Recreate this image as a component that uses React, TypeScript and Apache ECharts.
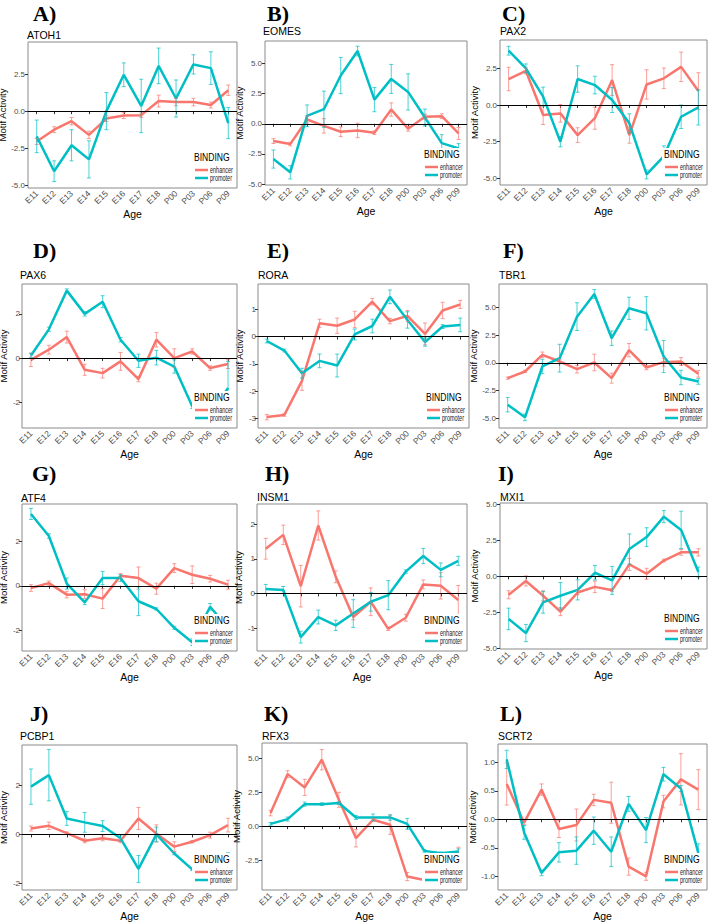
import React, { useEffect, useRef } from "react";
import * as echarts from "echarts";

const categories = ["E11", "E12", "E13", "E14", "E15", "E16", "E17", "E18", "P00", "P03", "P06", "P09"];
const panelLabels = ["A)", "B)", "C)", "D)", "E)", "F)", "G)", "H)", "I)", "J)", "K)", "L)"];
const motifNames = ["ATOH1", "EOMES", "PAX2", "PAX6", "RORA", "TBR1", "ATF4", "INSM1", "MXI1", "PCBP1", "RFX3", "SCRT2"];
const legendTitle = "BINDING";
const groupNames = ["enhancer", "promoter"];

// ATOH1
const atoh1Enh = [-2.05, -1.25, -0.68, -1.6, -0.5, -0.3, -0.27, 0.68, 0.61, 0.61, 0.41, 1.41];
const atoh1EnhErr = [0.2, 0.2, 0.25, 0.25, 0.2, 0.2, 0.15, 0.4, 0.25, 0.25, 0.2, 0.35];
const atoh1Pro = [-1.7, -4.05, -2.3, -3.25, 0.0, 2.45, 0.35, 3.05, 0.85, 3.15, 2.9, -0.8];
const atoh1ProErr = [1.1, 0.7, 1.05, 1.25, 1.25, 0.8, 1.8, 1.2, 1.25, 0.65, 1.1, 1.05];
const atoh1Ticks = [-5, -2.5, 0, 2.5];
const atoh1Range = [-5.18, 4.66];

// EOMES
const eomesEnh = [-1.43, -1.68, 0.36, -0.17, -0.66, -0.55, -0.74, 1.18, -0.41, 0.58, 0.63, -0.8];
const eomesEnhErr = [0.2, 0.15, 0.3, 0.6, 0.4, 0.6, 0.15, 0.55, 0.2, 0.2, 0.2, 0.5];
const eomesPro = [-2.92, -4.02, 0.66, 1.21, 4.0, 6.03, 2.0, 3.72, 2.64, 0.52, -1.6, -2.04];
const eomesProErr = [0.75, 0.55, 0.9, 1.5, 1.5, 0.4, 1.0, 1.2, 1.5, 0.7, 0.7, 0.4];
const eomesTicks = [-5, -2.5, 0, 2.5, 5];
const eomesRange = [-5.07, 6.86];

// PAX2
const pax2Enh = [1.77, 2.32, -0.68, -0.57, -2.05, -0.9, 1.7, -2.05, 1.4, 1.82, 2.6, 0.95];
const pax2EnhErr = [0.8, 0.2, 0.65, 0.6, 0.5, 0.75, 1.05, 0.55, 1.0, 0.7, 1.0, 1.25];
const pax2Pro = [3.7, 2.5, 0.57, -2.5, 1.77, 1.36, 0.34, -1.25, -4.73, -3.48, -0.8, -0.16];
const pax2ProErr = [0.3, 0.3, 0.65, 0.35, 0.9, 0.6, 0.85, 0.65, 0.3, 0.7, 0.8, 1.2];
const pax2Ticks = [-5, -2.5, 0, 2.5];
const pax2Range = [-5.45, 4.43];

// PAX6
const pax6Enh = [-0.08, 0.38, 0.95, -0.53, -0.68, -0.15, -0.95, 0.83, 0.0, 0.3, -0.45, -0.27];
const pax6EnhErr = [0.3, 0.2, 0.27, 0.25, 0.22, 0.4, 0.12, 0.33, 0.42, 0.12, 0.1, 0.2];
const pax6Pro = [0.12, 1.3, 3.05, 2.0, 2.55, 0.83, -0.12, 0.02, -0.38, -2.18, -2.55, -1.35];
const pax6ProErr = [0.1, 0.1, 0.08, 0.1, 0.27, 0.1, 0.3, 0.33, 0.3, 0.1, 0.2, 1.2];
const pax6Ticks = [-2, 0, 2];
const pax6Range = [-3.16, 3.35];

// RORA
const roraEnh = [-2.95, -2.87, -1.62, 0.49, 0.4, 0.63, 1.28, 0.57, 0.76, 0.1, 0.96, 1.18];
const roraEnhErr = [0.1, 0.05, 0.35, 0.15, 0.28, 0.3, 0.12, 0.1, 0.2, 0.4, 0.3, 0.15];
const roraPro = [-0.16, -0.51, -1.34, -0.89, -1.06, 0.08, 0.39, 1.46, 0.61, -0.2, 0.37, 0.43];
const roraProErr = [0.07, 0.05, 0.18, 0.25, 0.42, 0.2, 0.25, 0.25, 0.3, 0.15, 0.07, 0.25];
const roraTicks = [-3, -2, -1, 0, 1];
const roraRange = [-3.35, 1.93];

// TBR1
const tbr1Enh = [-1.38, -0.78, 0.72, 0.12, -0.57, 0.03, -1.38, 1.14, -0.42, 0.06, 0.12, -0.99];
const tbr1EnhErr = [0.1, 0.1, 0.25, 0.2, 0.35, 0.75, 0.45, 0.6, 0.2, 0.35, 0.35, 0.3];
const tbr1Pro = [-3.77, -4.91, -0.33, 0.42, 4.16, 6.2, 2.22, 4.91, 4.46, 0.57, -1.32, -1.68];
const tbr1ProErr = [0.65, 0.3, 0.65, 1.25, 1.25, 0.4, 0.65, 1.0, 1.5, 1.45, 0.65, 0.25];
const tbr1Ticks = [-5, -2.5, 0, 2.5, 5];
const tbr1Range = [-5.87, 7.1];

// ATF4
const atf4Enh = [-0.1, 0.12, -0.4, -0.38, -0.58, 0.45, 0.35, -0.13, 0.8, 0.5, 0.32, 0.05];
const atf4EnhErr = [0.15, 0.1, 0.15, 0.2, 0.45, 0.1, 0.5, 0.25, 0.2, 0.4, 0.15, 0.2];
const atf4Pro = [3.25, 2.25, 0.1, -0.75, 0.35, 0.35, -0.7, -1.05, -1.9, -2.55, -0.95, -1.9];
const atf4ProErr = [0.25, 0.1, 0.25, 0.1, 0.3, 0.15, 0.65, 0.05, 0.07, 0.15, 0.15, 0.1];
const atf4Ticks = [-2, 0, 2];
const atf4Range = [-2.95, 3.7];

// INSM1
const insm1Enh = [1.29, 1.69, 0.21, 1.96, 0.48, -0.68, -0.24, -1.02, -0.7, 0.26, 0.22, -0.19];
const insm1EnhErr = [0.3, 0.28, 0.6, 0.42, 0.17, 0.08, 0.4, 0.05, 0.1, 0.13, 0.38, 0.42];
const insm1Pro = [0.13, 0.1, -1.26, -0.68, -0.92, -0.58, -0.24, -0.05, 0.63, 1.08, 0.68, 0.94];
const insm1ProErr = [0.13, 0.1, 0.17, 0.2, 0.15, 0.4, 0.27, 0.42, 0.05, 0.22, 0.2, 0.13];
const insm1Ticks = [-1, 0, 1, 2];
const insm1Range = [-1.66, 2.58];

// MXI1
const mxi1Enh = [-1.28, -0.32, -1.35, -2.45, -1.12, -0.73, -0.96, 0.83, 0.18, 1.1, 1.67, 1.67];
const mxi1EnhErr = [0.28, 0.35, 0.35, 0.28, 0.15, 0.4, 0.1, 0.42, 0.38, 0.1, 0.2, 0.25];
const mxi1Pro = [-2.96, -3.94, -1.81, -1.35, -0.94, 0.25, -0.28, 1.9, 2.73, 4.15, 3.23, 0.3];
const mxi1ProErr = [0.75, 0.6, 0.75, 0.92, 0.7, 0.5, 0.97, 1.05, 0.65, 0.42, 1.3, 0.35];
const mxi1Ticks = [-5, -2.5, 0, 2.5, 5];
const mxi1Range = [-5.05, 5.1];

// PCBP1
const pcbp1Enh = [0.24, 0.35, 0.05, -0.26, -0.16, -0.26, 0.65, 0.04, -0.5, -0.3, -0.03, 0.38];
const pcbp1EnhErr = [0.1, 0.15, 0.05, 0.08, 0.1, 0.08, 0.45, 0.35, 0.2, 0.05, 0.12, 0.28];
const pcbp1Pro = [1.95, 2.42, 0.65, 0.49, 0.34, -0.16, -1.41, 0.0, -0.78, -1.43, -1.9, -1.35];
const pcbp1ProErr = [0.72, 1.05, 0.28, 0.4, 0.22, 0.1, 0.55, 0.3, 0.05, 0.05, 0.1, 0.6];
const pcbp1Ticks = [-2, 0, 2];
const pcbp1Range = [-2.27, 3.65];

// RFX3
const rfx3Enh = [0.96, 3.83, 2.85, 4.89, 1.94, -0.88, 0.47, 0.1, -3.71, -3.96, -3.0, -1.9];
const rfx3EnhErr = [0.2, 0.25, 0.6, 0.75, 0.55, 0.65, 0.1, 0.7, 0.3, 0.15, 0.3, 0.35];
const rfx3Pro = [0.17, 0.52, 1.62, 1.62, 1.7, 0.64, 0.64, 0.64, 0.17, -1.82, -2.0, -1.87];
const rfx3ProErr = [0.1, 0.15, 0.15, 0.1, 0.1, 0.15, 0.25, 0.2, 0.4, 0.1, 0.1, 0.2];
const rfx3Ticks = [-2.5, 0, 2.5, 5];
const rfx3Range = [-4.7, 6.12];

// SCRT2
const scrt2Enh = [0.62, -0.06, 0.52, -0.17, -0.1, 0.34, 0.29, -0.83, -1.0, 0.31, 0.7, 0.52];
const scrt2EnhErr = [0.37, 0.03, 0.1, 0.15, 0.28, 0.1, 0.36, 0.15, 0.07, 0.11, 0.45, 0.35];
const scrt2Pro = [1.05, -0.23, -0.94, -0.58, -0.55, -0.2, -0.57, 0.27, -0.19, 0.79, 0.54, -0.59];
const scrt2ProErr = [0.16, 0.12, 0.05, 0.17, 0.24, 0.24, 0.26, 0.13, 0.22, 0.12, 0.05, 0.16];
const scrt2Ticks = [-1, -0.5, 0, 0.5, 1];
const scrt2Range = [-1.24, 1.32];

const panels = [
  { enh: atoh1Enh, enhErr: atoh1EnhErr, pro: atoh1Pro, proErr: atoh1ProErr, ticks: atoh1Ticks, range: atoh1Range },
  { enh: eomesEnh, enhErr: eomesEnhErr, pro: eomesPro, proErr: eomesProErr, ticks: eomesTicks, range: eomesRange },
  { enh: pax2Enh, enhErr: pax2EnhErr, pro: pax2Pro, proErr: pax2ProErr, ticks: pax2Ticks, range: pax2Range },
  { enh: pax6Enh, enhErr: pax6EnhErr, pro: pax6Pro, proErr: pax6ProErr, ticks: pax6Ticks, range: pax6Range },
  { enh: roraEnh, enhErr: roraEnhErr, pro: roraPro, proErr: roraProErr, ticks: roraTicks, range: roraRange },
  { enh: tbr1Enh, enhErr: tbr1EnhErr, pro: tbr1Pro, proErr: tbr1ProErr, ticks: tbr1Ticks, range: tbr1Range },
  { enh: atf4Enh, enhErr: atf4EnhErr, pro: atf4Pro, proErr: atf4ProErr, ticks: atf4Ticks, range: atf4Range },
  { enh: insm1Enh, enhErr: insm1EnhErr, pro: insm1Pro, proErr: insm1ProErr, ticks: insm1Ticks, range: insm1Range },
  { enh: mxi1Enh, enhErr: mxi1EnhErr, pro: mxi1Pro, proErr: mxi1ProErr, ticks: mxi1Ticks, range: mxi1Range },
  { enh: pcbp1Enh, enhErr: pcbp1EnhErr, pro: pcbp1Pro, proErr: pcbp1ProErr, ticks: pcbp1Ticks, range: pcbp1Range },
  { enh: rfx3Enh, enhErr: rfx3EnhErr, pro: rfx3Pro, proErr: rfx3ProErr, ticks: rfx3Ticks, range: rfx3Range },
  { enh: scrt2Enh, enhErr: scrt2EnhErr, pro: scrt2Pro, proErr: scrt2ProErr, ticks: scrt2Ticks, range: scrt2Range },
];

// layout (pixel boxes of each plot panel: x1, y1, x2, y2)
const boxes = [
  [28, 42, 237, 188], [265, 41, 467, 185], [500, 40, 707, 185],
  [22, 284, 237, 428], [258, 284, 469, 428], [499, 284, 707, 428],
  [22, 504, 237, 651], [257, 504, 467, 651], [500, 503, 707, 649],
  [22, 745, 237, 890], [262, 743, 467, 890], [498, 744, 707, 890],
];
const letterPos = [
  [33, 13], [267, 13], [502, 13],
  [33, 250], [267, 250], [503, 250],
  [32, 473], [265, 473], [498, 473],
  [30, 713], [264, 713], [500, 713],
];
const namePos = [
  [27, 35], [263, 31], [500, 31],
  [20, 275], [258, 275], [499, 275],
  [21, 498], [257, 497], [500, 497],
  [20, 736], [262, 736], [498, 736],
];
const yNameGaps = [11, 15, 15, 6.5, 9, 14, 6.5, 9, 15, 6.5, 13, 14];

const ENH = "#F8766D";
const PRO = "#00BFC4";
const SANS = '"Liberation Sans", Arial, sans-serif';
const SERIF = '"Liberation Serif", "Times New Roman", serif';

function errorSeries(values: number[], errs: number[], color: string, idx: number, name: string) {
  return {
    type: "custom",
    name,
    xAxisIndex: idx,
    yAxisIndex: idx,
    silent: true,
    z: 4,
    encode: { x: 0, y: [1, 2] },
    data: values.map((v, k) => [k, v - errs[k], v + errs[k]]),
    renderItem: (params: any, api: any) => {
      const x = api.value(0);
      const top = api.coord([x, api.value(2)]);
      const bot = api.coord([x, api.value(1)]);
      const w = 2;
      const style = { stroke: color, lineWidth: 1, opacity: 0.7 };
      return {
        type: "group",
        children: [
          { type: "line", shape: { x1: top[0], y1: top[1], x2: bot[0], y2: bot[1] }, style },
          { type: "line", shape: { x1: top[0] - w, y1: top[1], x2: top[0] + w, y2: top[1] }, style },
          { type: "line", shape: { x1: bot[0] - w, y1: bot[1], x2: bot[0] + w, y2: bot[1] }, style },
        ],
      };
    },
  };
}

function legendGraphic(x2: number, y2: number) {
  const gx = x2 - 45;
  const gy = y2 - 37;
  const z = 20;
  return [
    { type: "rect", z, silent: true, shape: { x: gx, y: gy, width: 43, height: 35 }, style: { fill: "#fff" } },
    {
      type: "text", z: z + 1, silent: true, x: gx + 2, y: gy + 6, scaleX: 0.78,
      style: { text: legendTitle, fontSize: 11, fill: "#000", fontFamily: SANS, verticalAlign: "middle", align: "left" },
    },
    { type: "line", z: z + 1, silent: true, shape: { x1: gx + 3, y1: gy + 19, x2: gx + 16, y2: gy + 19 }, style: { stroke: ENH, lineWidth: 2.5 } },
    {
      type: "text", z: z + 1, silent: true, x: gx + 18, y: gy + 19, scaleX: 0.58,
      style: { text: groupNames[0], fontSize: 9.5, fill: "#1a1a1a", fontFamily: SANS, verticalAlign: "middle", align: "left" },
    },
    { type: "line", z: z + 1, silent: true, shape: { x1: gx + 3, y1: gy + 27, x2: gx + 16, y2: gy + 27 }, style: { stroke: PRO, lineWidth: 2.5 } },
    {
      type: "text", z: z + 1, silent: true, x: gx + 18, y: gy + 27, scaleX: 0.58,
      style: { text: groupNames[1], fontSize: 9.5, fill: "#1a1a1a", fontFamily: SANS, verticalAlign: "middle", align: "left" },
    },
  ];
}

function buildOption() {
  const grid: any[] = [];
  const xAxis: any[] = [];
  const yAxis: any[] = [];
  const series: any[] = [];
  const title: any[] = [];
  const graphic: any[] = [];

  panels.forEach((p, i) => {
    const [x1, y1, x2, y2] = boxes[i];
    const decimals = p.ticks.some((t) => !Number.isInteger(t)) ? 1 : 0;
    grid.push({
      left: x1, top: y1, width: x2 - x1, height: y2 - y1,
      show: true, borderColor: "#8a8a8a", borderWidth: 1, backgroundColor: "transparent",
      containLabel: false, outerBoundsMode: "none",
    });
    xAxis.push({
      type: "category", gridIndex: i, data: categories, boundaryGap: true,
      axisLine: { show: false },
      axisTick: { show: true, alignWithLabel: true, length: 3, lineStyle: { color: "#333" } },
      axisLabel: { rotate: 45, interval: 0, fontSize: 8.5, color: "#4d4d4d", margin: 4, fontFamily: SANS },
      splitLine: { show: false },
      name: "Age", nameLocation: "middle", nameGap: 19,
      nameTextStyle: { fontSize: 10.5, color: "#000", fontFamily: SANS },
    });
    yAxis.push({
      type: "value", gridIndex: i, min: p.range[0], max: p.range[1],
      axisLine: { show: false },
      splitLine: { show: false },
      axisTick: { show: true, length: 3, customValues: p.ticks, lineStyle: { color: "#333" } },
      axisLabel: {
        customValues: p.ticks, fontSize: 8, color: "#4d4d4d", margin: decimals ? 3 : 2, fontFamily: SANS,
        formatter: (v: number) => Number(v).toFixed(decimals),
      },
      name: "Motif Activity", nameLocation: "middle", nameGap: yNameGaps[i],
      nameTextStyle: { fontSize: 9.5, color: "#000", fontFamily: SANS },
    });
    series.push({
      type: "line", name: groupNames[0], xAxisIndex: i, yAxisIndex: i, data: p.enh,
      symbol: "none", showSymbol: false, z: 3,
      lineStyle: { width: 2.5, color: ENH }, itemStyle: { color: ENH },
      markLine: {
        silent: true, symbol: ["none", "none"], label: { show: false },
        lineStyle: { color: "#000", width: 1, type: "solid" },
        data: [{ yAxis: 0 }],
      },
    });
    series.push({
      type: "line", name: groupNames[1], xAxisIndex: i, yAxisIndex: i, data: p.pro,
      symbol: "none", showSymbol: false, z: 3,
      lineStyle: { width: 2.5, color: PRO }, itemStyle: { color: PRO },
    });
    series.push(errorSeries(p.enh, p.enhErr, ENH, i, "enhancer error"));
    series.push(errorSeries(p.pro, p.proErr, PRO, i, "promoter error"));

    graphic.push(...legendGraphic(x2, y2));

    title.push({
      text: panelLabels[i], left: letterPos[i][0], top: letterPos[i][1] - 11, padding: 0,
      textStyle: { fontFamily: SERIF, fontWeight: "bold", fontSize: 22, color: "#000" },
    });
    title.push({
      text: motifNames[i], left: namePos[i][0], top: namePos[i][1] - 6, padding: 0,
      textStyle: { fontFamily: SANS, fontWeight: "normal", fontSize: 10.5, color: "#000" },
    });
  });

  return {
    animation: false,
    backgroundColor: "#fff",
    textStyle: { fontFamily: SANS },
    title, grid, xAxis, yAxis, series, graphic,
  };
}

export default function App() {
  const ref = useRef<HTMLDivElement>(null);
  useEffect(() => {
    document.body.style.margin = "0";
    const chart = echarts.init(ref.current!, undefined, { renderer: "svg" });
    chart.setOption(buildOption() as any);
    return () => chart.dispose();
  }, []);
  return <div ref={ref} style={{ position: "absolute", left: 0, top: 0, width: 709, height: 923, background: "#fff" }} />;
}
